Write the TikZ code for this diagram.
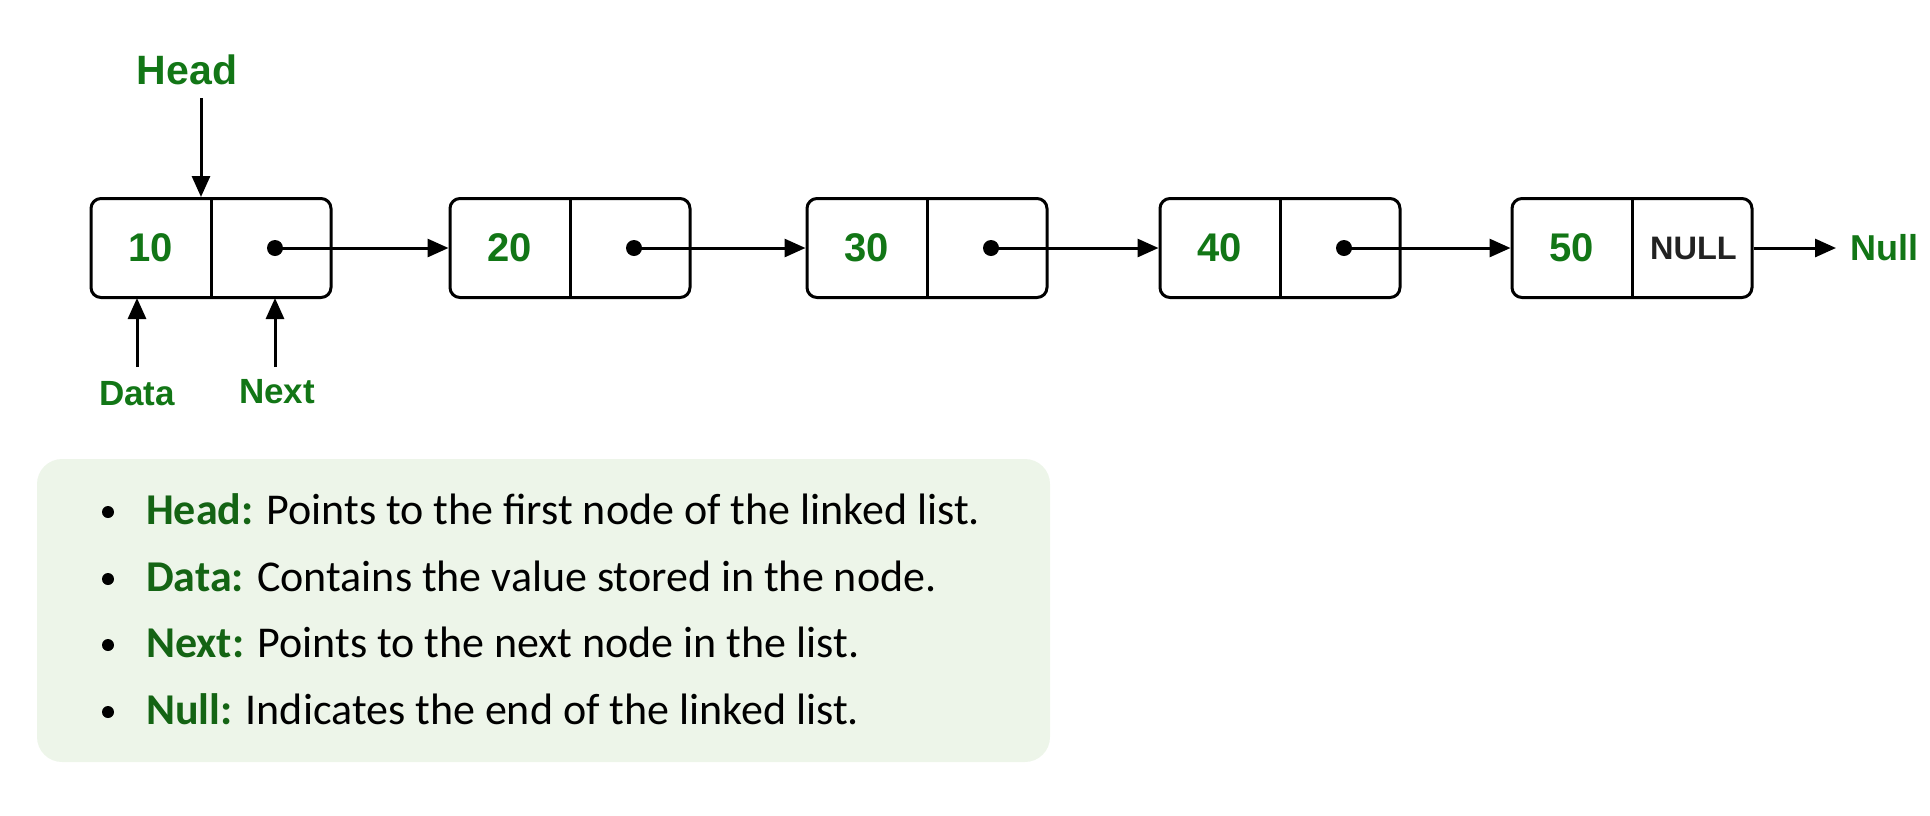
\documentclass[tikz,border=0pt]{standalone}
\usepackage{fontspec}
\setmainfont{Liberation Sans}
\newfontfamily\carlito{Carlito}
\usetikzlibrary{arrows.meta}
\definecolor{gfg}{RGB}{18,118,22}
\definecolor{gfgdark}{RGB}{20,100,20}
\definecolor{panel}{RGB}{237,245,233}
\definecolor{nulltxt}{RGB}{34,34,34}
\tikzset{
  listbox/.style={draw=black, line width=3pt, rounded corners=10pt, minimum width=240pt, minimum height=99pt, inner sep=0pt},
  arr/.style={line width=3pt, -{Triangle[length=21pt,width=18pt]}},
  numtxt/.style={text=gfg, font=\fontsize{40}{44}\selectfont\bfseries},
  lbltxt/.style={text=gfg, font=\fontsize{35}{38}\selectfont\bfseries},
  dotmark/.style={fill=black, circle, inner sep=0pt, minimum size=16pt},
  bullettxt/.style={anchor=base west, inner sep=0pt, font=\carlito\fontsize{44}{48}\selectfont},
  bulletdot/.style={fill=black, circle, inner sep=0pt, minimum size=12pt},
}
\begin{document}
\begin{tikzpicture}[x=1pt,y=-1pt]
\useasboundingbox (0,0) rectangle (1930,815);
% list boxes
\foreach \i/\cx in {1/211, 2/570, 3/927, 4/1280, 5/1632} {
  \node[listbox] (n\i) at (\cx,248) {};
  \draw[line width=3pt] (n\i.north) -- (n\i.south);
}
% data values
\foreach \i/\v in {1/10, 2/20, 3/30, 4/40, 5/50} {
  \node[numtxt] (d\i) at ([xshift=61pt]n\i.west) {\v};
}
\node[text=nulltxt, font=\fontsize{32.5}{35}\selectfont\bfseries] (nulltext) at ([xshift=-60pt]n5.east) {NULL};
% pointer dots
\foreach \i in {1,2,3,4} {
  \node[dotmark] (p\i) at ([xshift=64pt]n\i.center) {};
}
\draw[arr] (p1.center) -- (n2.west);
\draw[arr] (p2.center) -- (n3.west);
\draw[arr] (p3.center) -- (n4.west);
\draw[arr] (p4.center) -- (n5.west);
% Null
\node[text=gfg, font=\fontsize{36}{38}\selectfont\bfseries, anchor=west, inner sep=0pt] (nullend) at (1850,248) {Null};
\coordinate (nulltip) at (1836,248);
\draw[arr] (n5.east) -- (nulltip);
% Head
\node[text=gfg, font=\fontsize{41}{44}\selectfont\bfseries] (head) at (187,70) {Head};
\coordinate (headtip) at (201,197);
\coordinate (headstart) at (201,98);
\draw[arr] (headstart) -- (headtip);
% Data / Next
\node[lbltxt] (datal) at (137,394) {Data};
\node[lbltxt] (nextl) at (277,392) {Next};
\coordinate (dstart) at (137,367);
\coordinate (dtip) at (137,298);
\coordinate (nstart) at (275,367);
\coordinate (ntip) at (275,298);
\draw[arr] (dstart) -- (dtip);
\draw[arr] (nstart) -- (ntip);
% panel
\node[fill=panel, rounded corners=25pt, minimum width=1013pt, minimum height=303pt, inner sep=0pt] (panelbox) at (543.5,610.5) {};
\foreach \y/\k/\t in {524/Head:/Points to the first node of the linked list., 591/Data:/Contains the value stored in the node., 657/Next:/Points to the next node in the list., 724/Null:/Indicates the end of the linked list.} {
  \node[bulletdot] at (108,\y-12) {};
  \node[bullettxt] at (146,\y) {{\bfseries\color{gfgdark}\k} \t};
}
\end{tikzpicture}
\end{document}
